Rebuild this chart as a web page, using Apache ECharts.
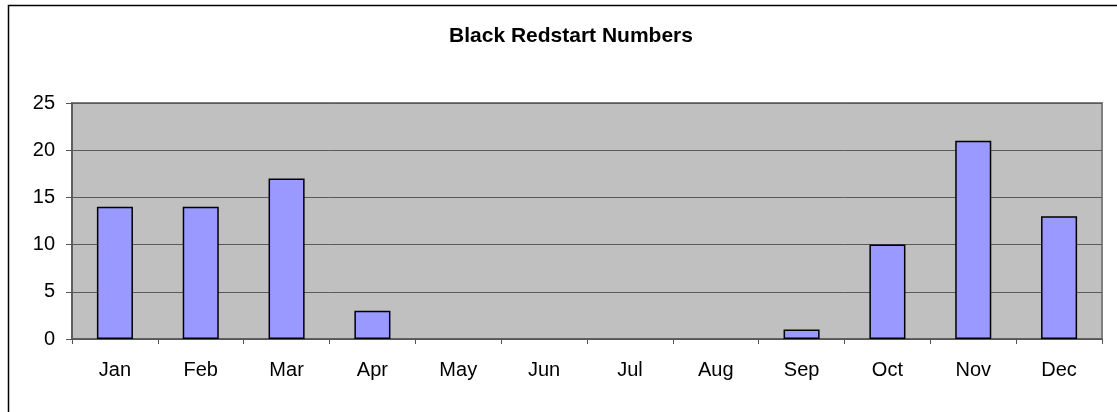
<!DOCTYPE html>
<html>
<head>
<meta charset="utf-8">
<title>Black Redstart Numbers</title>
<script src="https://cdn.jsdelivr.net/npm/echarts@6/dist/echarts.min.js"></script>
<style>
  html, body { margin: 0; padding: 0; background: #fff; }
  #chart { width: 1117px; height: 412px; }
</style>
</head>
<body>
<div id="chart"></div>
<script>
// data
const months = ['Jan', 'Feb', 'Mar', 'Apr', 'May', 'Jun', 'Jul', 'Aug', 'Sep', 'Oct', 'Nov', 'Dec']
const counts = [14, 14, 17, 3, 0, 0, 0, 0, 1, 10, 21, 13]
const yTicks = [0, 5, 10, 15, 20, 25]

const chart = echarts.init(document.getElementById('chart'))

const font = 'Liberation Sans, Arial, sans-serif'

// zero-height bars get no outline so they don't show as stubs on the axis
const barData = counts.map(v => v === 0 ? { value: v, itemStyle: { borderWidth: 0 } } : v)

const option = {
  animation: false,
  backgroundColor: '#ffffff',
  title: {
    text: 'Black Redstart Numbers',
    left: 566,
    textAlign: 'center',
    top: 21,
    textStyle: {
      fontFamily: font,
      fontSize: 21,
      fontWeight: 'bold',
      color: '#000'
    }
  },
  // outer chart frame (right and bottom edges fall outside the picture)
  graphic: [{
    type: 'rect',
    shape: { x: 8.5, y: 5.5, width: 1130, height: 430 },
    style: { fill: 'none', stroke: '#000', lineWidth: 1.5 },
    silent: true
  }],
  grid: {
    left: 72,
    right: 15,
    top: 103,
    bottom: 73,
    show: true,
    backgroundColor: '#C0C0C0',
    borderColor: '#808080',
    borderWidth: 2
  },
  xAxis: {
    type: 'category',
    data: months,
    axisLine: { lineStyle: { color: '#555', width: 1.5 } },
    axisTick: { show: true, length: 5, lineStyle: { color: '#555' } },
    axisLabel: {
      margin: 21,
      fontFamily: font,
      fontSize: 20,
      color: '#000'
    }
  },
  yAxis: {
    type: 'value',
    min: yTicks[0],
    max: yTicks[yTicks.length - 1],
    interval: yTicks[1] - yTicks[0],
    axisLine: { show: true, lineStyle: { color: '#555', width: 1.5 } },
    axisTick: { show: true, length: 6, lineStyle: { color: '#555' } },
    axisLabel: {
      margin: 17,
      fontFamily: font,
      fontSize: 20,
      color: '#000'
    },
    splitLine: { lineStyle: { color: '#5a5a5a', width: 1 } }
  },
  series: [{
    type: 'bar',
    data: barData,
    barWidth: '42%',
    itemStyle: {
      color: '#9999FF',
      borderColor: '#000',
      borderWidth: 1.5
    }
  }]
}

chart.setOption(option)
</script>
</body>
</html>
